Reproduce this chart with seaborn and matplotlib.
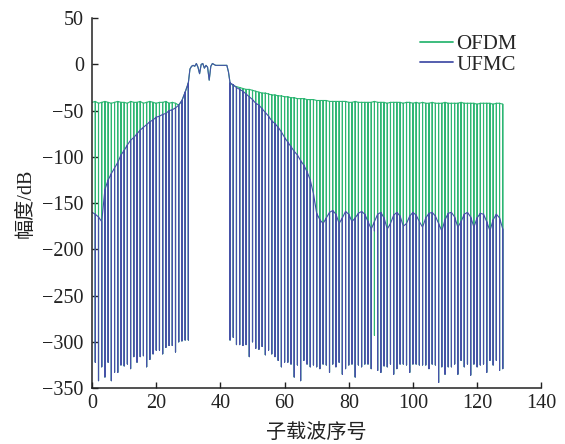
import numpy as np
import pandas as pd
import matplotlib
matplotlib.use("Agg")
import matplotlib.pyplot as plt
from matplotlib.lines import Line2D
import seaborn as sns

# ---------------- data ----------------
series_names = ["OFDM", "UFMC"]

# left side: sub-carriers 0..30 (lobe level at k, null depth at k for k>=1)
k_left = list(range(0, 31))
ufmc_top_left = [-160, -162, -165, -170, -135, -125, -118, -112, -106, -98, -93, -87,
                 -82, -79, -75, -71, -68, -65, -62, -60, -57, -56, -54, -53, -50, -49,
                 -47, -44, -39, -30, -20]
ofdm_top_left = [-41, -40, -42, -41, -40, -41, -42, -41, -40, -41, -41, -42, -40, -41,
                 -41, -40, -42, -41, -40, -41, -42, -41, -41, -40, -42, -41, -42, -44,
                 -39, -30, -20]
ufmc_null_left = [None, -322, -342, -327, -338, -322, -342, -333, -333, -325, -326, -324,
                  -329, -316, -322, -316, -315, -327, -319, -313, -309, -309, -313, -306,
                  -304, -304, -311, -300, -299, -298, -298]
ofdm_null_left = [None, -322, -342, -327, -338, -322, -342, -333, -333, -325, -326, -324,
                  -329, -316, -322, -316, -315, -327, -319, -313, -309, -309, -313, -306,
                  -304, -304, -311, -300, -299, -298, -298]

# pass band (allocated sub-carriers), same for both waveforms
pass_x = list(np.arange(30.5, 43.0, 0.5))
pass_amp = [-5, -2, -1, -2, 1, -3, -10, 0, 1, -4, -1, -3, -17, -2, 1, 0, -1, -1, -1,
            -1, -1, -1, -1, -1, -8]

# right side: sub-carriers 43..128
k_right = list(range(43, 129))
ufmc_top_right = [-20, -22, -25, -27, -29, -32, -35, -38, -42, -44, -48, -52, -56, -61,
                  -64, -68, -73, -79, -84, -89, -94, -98, -104, -109, -116, -125, -140,
                  -161,
                  -168, -172, -166, -160, -158, -162, -172, -166, -159, -162, -170, -166,
                  -161, -159, -162, -170, -178, -170, -162, -160, -166, -178, -172, -163,
                  -160, -164, -175, -172, -164, -160, -163, -170, -176, -166, -161, -160,
                  -164, -172, -180, -168, -161, -160, -165, -176, -170, -162, -160, -165,
                  -176, -166, -161, -162, -170, -180, -168, -162, -166, -178]
ofdm_top_right = [-20, -23, -24, -25, -26, -27, -27, -28, -29, -30, -31, -31, -32, -33,
                  -33, -34, -34, -35, -35, -36, -36, -37, -37, -37, -38, -38, -38, -39,
                  -39, -39, -39, -40, -40, -40, -40, -40, -40, -41, -41, -40, -41, -41,
                  -41, -41, -41, -40, -41, -41, -41, -42, -41, -41, -41, -41, -42, -41,
                  -41, -42, -41, -42, -41, -42, -42, -41, -42, -42, -42, -41, -42, -42,
                  -42, -42, -41, -42, -42, -42, -42, -43, -42, -42, -42, -42, -43, -42,
                  -42, -43]
ufmc_null_right = [-298, -295, -303, -303, -304, -303, -316, -300, -307, -308, -305, -314,
                   -309, -313, -316, -320, -327, -322, -322, -324, -338, -325, -342, -320,
                   -324, -327, -325, -327, -329, -324, -325, -333, -324, -327, -322, -335,
                   -329, -325, -324, -338, -325, -327, -324, -324, -329, -180, -331, -333,
                   -326, -327, -324, -335, -329, -324, -324, -325, -333, -324, -324, -325,
                   -325, -325, -329, -324, -325, -344, -327, -335, -327, -327, -324, -335,
                   -320, -327, -324, -336, -324, -327, -325, -324, -333, -320, -325, -320,
                   -331, -329]
ofdm_null_right = [-298, -295, -303, -303, -304, -303, -316, -300, -307, -308, -305, -314,
                   -309, -313, -316, -320, -327, -322, -322, -324, -338, -325, -342, -320,
                   -324, -327, -325, -327, -329, -324, -325, -333, -324, -327, -322, -335,
                   -329, -325, -324, -338, -325, -327, -324, -324, -329, -293, -331, -333,
                   -326, -327, -324, -335, -329, -324, -324, -325, -333, -324, -324, -325,
                   -325, -325, -329, -324, -325, -344, -327, -335, -327, -327, -324, -335,
                   -320, -327, -324, -336, -324, -327, -325, -324, -333, -320, -325, -320,
                   -331, -329]

x_ticks = list(range(0, 141, 20))
y_ticks = list(range(-350, 51, 50))


# ---------------- build the traces ----------------
def trace(ks, tops, nulls):
    xs, ys = [], []
    for k, t, n in zip(ks, tops, nulls):
        xs.append(k); ys.append(t)
        if n is not None:
            xs += [k, k]; ys += [n, t]
    return xs, ys


frames = []
for name, tl, nl, tr, nr in [
    ("OFDM", ofdm_top_left, ofdm_null_left, ofdm_top_right, ofdm_null_right),
    ("UFMC", ufmc_top_left, ufmc_null_left, ufmc_top_right, ufmc_null_right),
]:
    x1, y1 = trace(k_left, tl, nl)
    x3, y3 = trace(k_right, tr, nr)
    xs = x1 + pass_x + x3
    ys = y1 + pass_amp + y3
    frames.append(pd.DataFrame({"x": xs, "amp": ys, "series": name}))
df = pd.concat(frames, ignore_index=True)

# ---------------- plot ----------------
sns.set_style("ticks")
plt.rcParams["font.family"] = ["Liberation Serif", "Noto Sans CJK SC"]
plt.rcParams["axes.unicode_minus"] = True

colors = {"OFDM": "#2db673", "UFMC": "#4652a8"}

fig = plt.figure(figsize=(5.65, 4.44), dpi=100)
ax = fig.add_axes([0.163, 0.126, 0.795, 0.833])

sns.lineplot(data=df, x="x", y="amp", hue="series", hue_order=series_names,
             palette=colors, estimator=None, sort=False, linewidth=0.8,
             legend=False, ax=ax)

ax.set_xlim(0, 140)
ax.set_ylim(-350, 50)
ax.set_xticks(x_ticks)
ax.set_yticks(y_ticks)
ax.tick_params(direction="in", length=4.5, width=1.0, labelsize=14.5, colors="#222222")
ax.tick_params(axis="y", pad=6)
ax.tick_params(axis="x", pad=4)
for s in ["top", "right"]:
    ax.spines[s].set_visible(False)
for s in ["left", "bottom"]:
    ax.spines[s].set_linewidth(1.1)
    ax.spines[s].set_color("#222222")

ax.set_xlabel("子载波序号", fontsize=14.5, labelpad=8, color="#222222")
ax.set_ylabel("幅度/dB", fontsize=14.5, labelpad=5, color="#222222")

handles = [Line2D([], [], color=colors[n], linewidth=1.3) for n in series_names]
ax.legend(handles, series_names, loc="upper right", bbox_to_anchor=(0.945, 0.956),
          frameon=False, fontsize=15, handlelength=1.6, handletextpad=0.15,
          labelspacing=0.05, borderpad=0, borderaxespad=0)

fig.savefig("out.png", dpi=100)
